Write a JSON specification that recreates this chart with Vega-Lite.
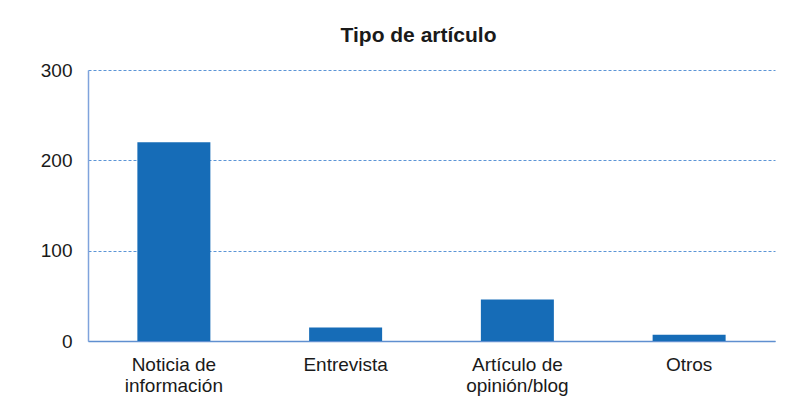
{
  "$schema": "https://vega.github.io/schema/vega-lite/v6.json",
  "width": 687,
  "height": 271,
  "autosize": {"type": "none"},
  "padding": {"left": 88, "top": 70, "right": 20, "bottom": 74},
  "background": "white",
  "title": {
    "text": "Tipo de artículo",
    "font": "Liberation Sans",
    "fontSize": 21,
    "fontWeight": "bold",
    "color": "#1a1a1a",
    "anchor": "middle",
    "frame": "group",
    "baseline": "alphabetic",
    "offset": -2,
    "dx": -13
  },
  "data": {
    "values": [
      {"tipo": "Noticia de información", "n": 220},
      {"tipo": "Entrevista", "n": 15},
      {"tipo": "Artículo de opinión/blog", "n": 46},
      {"tipo": "Otros", "n": 7}
    ]
  },
  "mark": {"type": "bar", "color": "#166cb7"},
  "encoding": {
    "x": {
      "field": "tipo",
      "type": "nominal",
      "sort": null,
      "scale": {"paddingInner": 0.575, "paddingOuter": 0.2875},
      "axis": {
        "title": null,
        "labelAngle": 0,
        "labelFont": "Liberation Sans",
        "labelFontSize": 19,
        "labelColor": "#1a1a1a",
        "labelPadding": 14,
        "labelLineHeight": 21,
        "labelBaseline": "top",
        "ticks": false,
        "domainColor": "#5f8fd0",
        "domainWidth": 1.5,
        "labelExpr": "datum.label == 'Noticia de información' ? ['Noticia de', 'información'] : datum.label == 'Artículo de opinión/blog' ? ['Artículo de', 'opinión/blog'] : datum.label"
      }
    },
    "y": {
      "field": "n",
      "type": "quantitative",
      "scale": {"domain": [0, 300]},
      "axis": {
        "title": null,
        "values": [0, 100, 200, 300],
        "labelFont": "Liberation Sans",
        "labelFontSize": 19,
        "labelColor": "#1a1a1a",
        "labelPadding": 16,
        "ticks": false,
        "domainColor": "#7fa3dc",
        "domainWidth": 1.5,
        "grid": true,
        "gridColor": "#5b95d6",
        "gridDash": [3, 2],
        "gridWidth": 1
      }
    }
  },
  "config": {"view": {"stroke": null}}
}
